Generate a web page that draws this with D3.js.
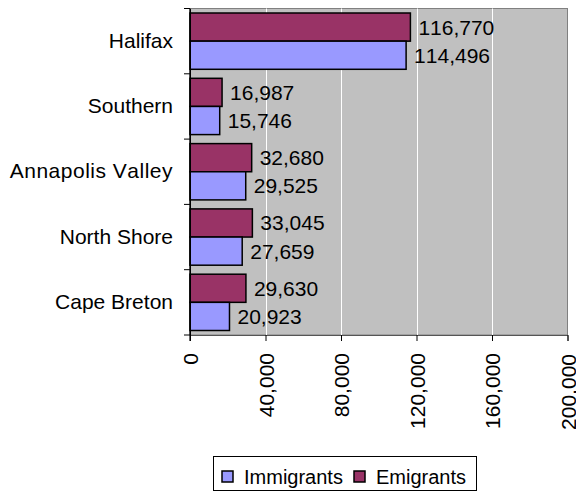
<!DOCTYPE html>
<html>
<head>
<meta charset="utf-8">
<script src="https://cdn.jsdelivr.net/npm/d3@7"></script>
<style>
  html, body { margin: 0; padding: 0; background: #fff; }
  text { font-family: "Liberation Sans", Arial, sans-serif; fill: #000; font-kerning: none; }
</style>
</head>
<body>
<svg id="chart" width="576" height="498"></svg>
<script>
const categories = ["Halifax", "Southern", "Annapolis Valley", "North Shore", "Cape Breton"];
const immigrants = [114496, 15746, 29525, 27659, 20923];
const emigrants = [116770, 16987, 32680, 33045, 29630];
const seriesNames = ["Emigrants", "Immigrants"];
const seriesColors = { Immigrants: "#9999FF", Emigrants: "#993366" };
const xTicks = [0, 40000, 80000, 120000, 160000, 200000];
const legendOrder = ["Immigrants", "Emigrants"];

const svg = d3.select("#chart");
const fontSize = 21;
const plot = { left: 190, right: 567.5, top: 8.5, bottom: 335 };

const x = d3.scaleLinear().domain([0, 200000]).range([plot.left, plot.right]);
const y = d3.scaleBand().domain(categories).range([plot.top, plot.bottom]).paddingInner(0).paddingOuter(0);
const ySub = d3.scaleBand().domain(seriesNames).range([0, y.bandwidth()]).paddingInner(0).paddingOuter(0.16);

// plot background
svg.append("rect")
  .attr("x", plot.left).attr("y", plot.top)
  .attr("width", plot.right - plot.left).attr("height", plot.bottom - plot.top)
  .attr("fill", "#C0C0C0").attr("stroke", "#808080").attr("stroke-width", 1);

// gridlines
svg.append("g").selectAll("line").data(xTicks.slice(1, -1)).join("line")
  .attr("x1", d => Math.round(x(d)) + 0.5).attr("x2", d => Math.round(x(d)) + 0.5)
  .attr("y1", plot.top).attr("y2", plot.bottom)
  .attr("stroke", "#fff").attr("stroke-width", 1);

// bars
const data = categories.map((c, i) => ({ cat: c, Immigrants: immigrants[i], Emigrants: emigrants[i] }));
const groups = svg.append("g").selectAll("g").data(data).join("g")
  .attr("transform", d => `translate(0,${y(d.cat)})`);

groups.selectAll("rect").data(d => seriesNames.map(s => ({ s, v: d[s] }))).join("rect")
  .attr("x", x(0))
  .attr("y", d => ySub(d.s))
  .attr("width", d => x(d.v) - x(0))
  .attr("height", ySub.bandwidth())
  .attr("fill", d => seriesColors[d.s])
  .attr("stroke", "#000").attr("stroke-width", 1.5);

groups.selectAll("text").data(d => seriesNames.map(s => ({ s, v: d[s] }))).join("text")
  .attr("x", d => x(d.v) + 8)
  .attr("y", d => ySub(d.s) + ySub.bandwidth() / 2)
  .attr("dominant-baseline", "central")
  .attr("font-size", fontSize)
  .text(d => d3.format(",")(d.v));

// y axis
const yAxis = d3.axisLeft(y).tickSize(0).tickPadding(17);
const yg = svg.append("g").attr("transform", `translate(${plot.left},0)`).call(yAxis);
yg.select(".domain").attr("stroke", "#000");
yg.selectAll("text").attr("font-size", fontSize).attr("font-family", "Liberation Sans, Arial, sans-serif").attr("fill", "#000")
  .attr("letter-spacing", d => d === "Annapolis Valley" ? 0.5 : 0);
// category boundary ticks
const bounds = categories.map(c => y(c)).concat([plot.bottom]);
svg.append("g").selectAll("line").data(bounds).join("line")
  .attr("x1", plot.left - 6).attr("x2", plot.left)
  .attr("y1", d => d).attr("y2", d => d)
  .attr("stroke", "#000");

// x axis
const xAxis = d3.axisBottom(x).tickValues(xTicks).tickSize(6).tickFormat(d3.format(","));
const xg = svg.append("g").attr("transform", `translate(0,${plot.bottom})`).call(xAxis);
xg.select(".domain").attr("stroke", "#555");
xg.selectAll(".tick line").attr("stroke", "#000");
xg.selectAll("text")
  .attr("font-size", fontSize).attr("font-family", "Liberation Sans, Arial, sans-serif").attr("fill", "#000")
  .attr("text-anchor", "end")
  .attr("dominant-baseline", "central")
  .attr("dy", null)
  .attr("y", 0)
  .attr("x", d => d === 200000 ? -1 : 0)
  .attr("transform", "translate(0,18) rotate(-90)");

// left axis line on top
svg.append("line")
  .attr("x1", plot.left).attr("x2", plot.left)
  .attr("y1", plot.top).attr("y2", plot.bottom + 6)
  .attr("stroke", "#000").attr("stroke-width", 1.2);

// legend
const lg = svg.append("g");
lg.append("rect").attr("x", 213.5).attr("y", 456.5).attr("width", 263).attr("height", 34)
  .attr("fill", "#fff").attr("stroke", "#000");
const legX = { Immigrants: 222, Emigrants: 354 };
legendOrder.forEach(s => {
  lg.append("rect").attr("x", legX[s]).attr("y", 471).attr("width", 11).attr("height", 11)
    .attr("fill", seriesColors[s]).attr("stroke", "#000").attr("stroke-width", 1.5);
  lg.append("text").attr("x", legX[s] + 22).attr("y", 476.5)
    .attr("dominant-baseline", "central").attr("font-size", 20).text(s);
});
</script>
</body>
</html>
